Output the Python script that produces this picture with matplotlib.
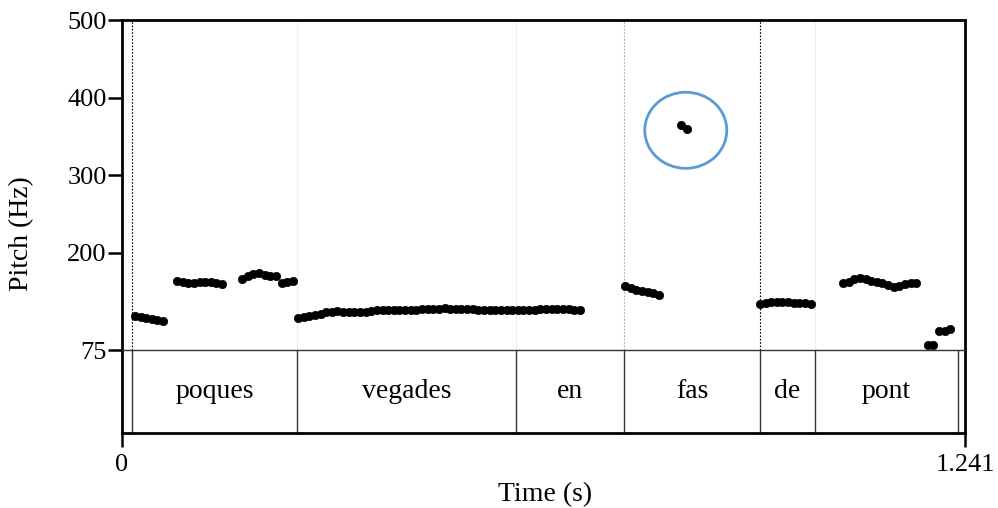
import matplotlib.pyplot as plt
import numpy as np
from matplotlib.patches import Ellipse

plt.rcParams['font.family'] = ['Liberation Serif', 'DejaVu Serif']

# pitch track: each segment = (start time, pitch values), frames every FRAME_STEP s
FRAME_STEP = 0.0083
segments = [
    (0.0191, [119, 117, 116, 115, 114, 113]),
    (0.0810, [164, 162, 161, 161, 162, 162, 162, 161, 160]),
    (0.1770, [166, 170, 173, 174, 172, 170, 170, 161, 162, 164]),
    (0.2591, [116.5, 117, 118.5, 120, 122, 123.5, 124.5, 125, 124.5, 124,
              123.5, 123.8, 124.5, 125.2, 126, 126.5, 126.5, 126.5, 126.6, 126.8,
              127, 127.1, 127.3, 127.5, 127.8, 128.2, 128.6, 128.4, 128, 127.6,
              127.4, 127.2, 127, 127, 127, 127, 127, 127, 127, 127,
              127, 127, 127.1, 127.3, 127.5, 127.7, 128, 128, 127.5, 127, 126.5]),
    (0.7405, [157.8, 154.4, 152.3, 151, 150.1, 148.8, 145.8]),
    (0.8230, [365, 360]),
    (0.9391, [134, 136, 136.5, 136.8, 136.2, 136.4, 136, 135.5, 135, 134.5]),
    (1.0614, [161.7, 163, 166, 167.3, 166, 164.3, 162.6, 161.7, 158.7, 155.7,
              157.4, 160, 161.7, 160.9]),
    (1.1862, [81.4, 81.4]),
    (1.2030, [99.5, 99.9, 101.6]),
]

# text tier
words = ['poques', 'vegades', 'en', 'fas', 'de', 'pont']
bounds = [0.0147, 0.2576, 0.5800, 0.7390, 0.9390, 1.0200, 1.2310]
t_end = 1.241
ymin, ymax = 75, 500
yticks = [75, 200, 300, 400, 500]

fig = plt.figure(figsize=(9.98, 5.08), dpi=100)
ax = fig.add_axes([0.1222, 0.311, 0.8447, 0.6496])
tx = fig.add_axes([0.1222, 0.1476, 0.8447, 0.1634], sharex=ax)

# boundary lines inside the pitch area
ax.axvline(bounds[0], color='black', ls=(0, (1.5, 1.5)), lw=0.8)
ax.axvline(bounds[3], color='#aaaaaa', ls=(0, (1.5, 1.5)), lw=0.8)
ax.axvline(bounds[4], color='black', ls=(0, (1.5, 1.5)), lw=0.8)
for b in [bounds[1], bounds[2], bounds[5]]:
    ax.axvline(b, color='#eeeeee', lw=0.8)

for start, vals in segments:
    t = start + FRAME_STEP * np.arange(len(vals))
    ax.plot(t, vals, 'o', color='black', ms=6, mec='black', mew=0.5)

ax.add_patch(Ellipse((0.830, 358), 0.1207, 98, fill=False,
                     edgecolor='#5B9BD5', lw=2))

ax.set_xlim(0, t_end)
ax.set_ylim(ymin, ymax)
ax.set_yticks(yticks)
ax.tick_params(axis='y', direction='out', length=10, width=1.8, labelsize=19, pad=1)
ax.tick_params(axis='x', bottom=False, labelbottom=False)
for s in ['left', 'top', 'right']:
    ax.spines[s].set_linewidth(2)
ax.spines['bottom'].set_visible(False)

for b in bounds:
    tx.axvline(b, color='#333333', lw=1)
for i, w in enumerate(words):
    tx.text((bounds[i] + bounds[i + 1]) / 2, 0.5, w, ha='center', va='center',
            fontsize=20)
tx.set_ylim(0, 1)
tx.set_yticks([])
tx.set_xticks([0, t_end])
tx.set_xticklabels(['0', '1.241'])
tx.tick_params(axis='x', direction='out', length=10, width=1.8, labelsize=19, pad=5)
tx.spines['top'].set_linewidth(1)
tx.spines['top'].set_color('#333333')
for s in ['left', 'bottom', 'right']:
    tx.spines[s].set_linewidth(2)

fig.text(0.546, 0.027, 'Time (s)', ha='center', va='center', fontsize=20)
fig.text(0.022, 0.54, 'Pitch (Hz)', ha='center', va='center', rotation=90,
         fontsize=20)

fig.savefig('out.png', dpi=100)
